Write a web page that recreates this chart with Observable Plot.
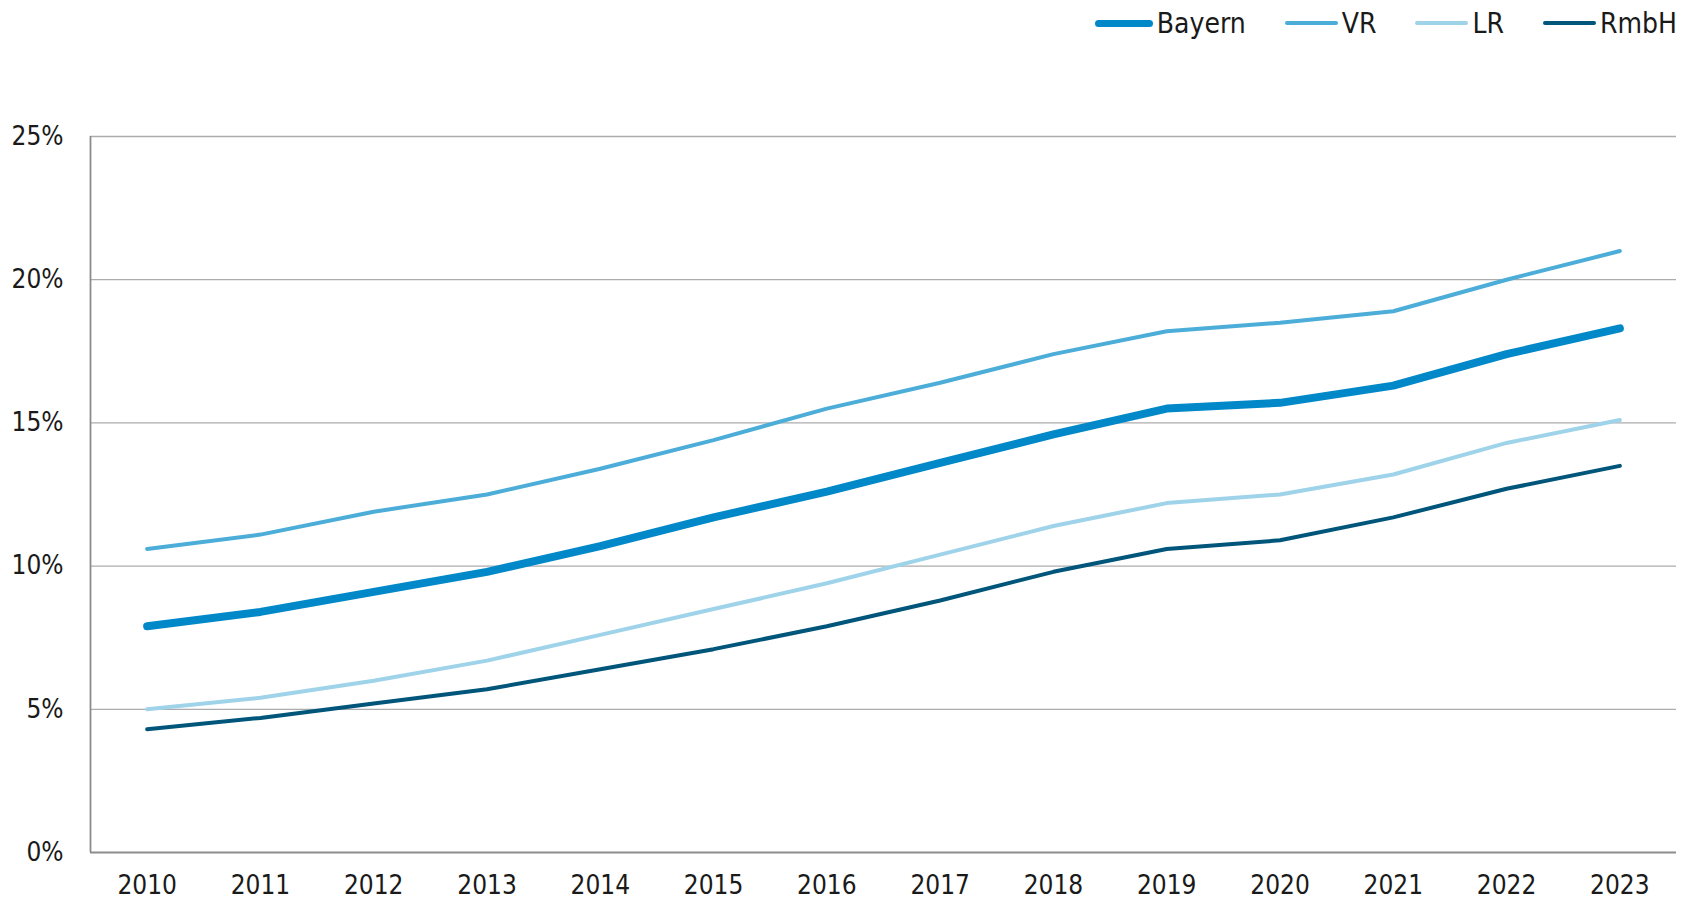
<!DOCTYPE html>
<html>
<head>
<meta charset="utf-8">
<script src="https://cdn.jsdelivr.net/npm/d3@7"></script>
<script src="https://cdn.jsdelivr.net/npm/@observablehq/plot@0.6"></script>
<style>
  html, body { margin: 0; padding: 0; background: #fff; }
  body { width: 1682px; height: 901px; overflow: hidden; font-family: "Liberation Sans Narrow", "DejaVu Sans Condensed", Roboto, sans-serif; color: #1a1a1a; }
  #legend { height: 46px; display: flex; justify-content: flex-end; align-items: center; padding-right: 5px; box-sizing: border-box; font-size: 28px; }
  .item { display: flex; align-items: center; margin-left: 39px; }
  .sw { border-radius: 4px; margin-right: 4px; }
</style>
</head>
<body>
<div id="legend"></div>
<div id="chart"></div>
<script>
const years = [2010, 2011, 2012, 2013, 2014, 2015, 2016, 2017, 2018, 2019, 2020, 2021, 2022, 2023];
const bayern = [7.9, 8.4, 9.1, 9.8, 10.7, 11.7, 12.6, 13.6, 14.6, 15.5, 15.7, 16.3, 17.4, 18.3];
const vr     = [10.6, 11.1, 11.9, 12.5, 13.4, 14.4, 15.5, 16.4, 17.4, 18.2, 18.5, 18.9, 20.0, 21.0];
const lr     = [5.0, 5.4, 6.0, 6.7, 7.6, 8.5, 9.4, 10.4, 11.4, 12.2, 12.5, 13.2, 14.3, 15.1];
const rmbh   = [4.3, 4.7, 5.2, 5.7, 6.4, 7.1, 7.9, 8.8, 9.8, 10.6, 10.9, 11.7, 12.7, 13.5];
const seriesNames = ["Bayern", "VR", "LR", "RmbH"];
const yTicks = [0, 5, 10, 15, 20, 25];

const colors = {Bayern: "#0088c8", VR: "#4badd8", LR: "#9fd3ea", RmbH: "#00557a"};
const widths = {Bayern: 8, VR: 4, LR: 4, RmbH: 4};
const values = {Bayern: bayern, VR: vr, LR: lr, RmbH: rmbh};

const rows = seriesNames.flatMap(s => years.map((y, i) => ({series: s, year: y, value: values[s][i]})));

// legend
const legend = document.getElementById("legend");
for (const s of seriesNames) {
  const it = document.createElement("div");
  it.className = "item";
  const sw = document.createElement("div");
  sw.className = "sw";
  sw.style.width = (s === "Bayern" ? 58 : 53) + "px";
  sw.style.height = widths[s] === 8 ? "7px" : "4px";
  sw.style.background = colors[s];
  const t = document.createElement("span");
  t.textContent = s;
  it.appendChild(sw);
  it.appendChild(t);
  legend.appendChild(it);
}

const drawOrder = ["VR", "LR", "RmbH", "Bayern"];

const chart = Plot.plot({
  width: 1682,
  height: 855,
  marginTop: 90,
  marginBottom: 49,
  marginLeft: 90,
  marginRight: 6,
  style: {fontFamily: "'Liberation Sans Narrow', 'DejaVu Sans Condensed', Roboto, sans-serif", fontSize: "26px", color: "#1a1a1a", background: "#fff"},
  x: {type: "linear", domain: [years[0] - 0.5, years[years.length - 1] + 0.5], ticks: years, tickFormat: d => String(d), tickSize: 0, tickPadding: 23, label: null},
  y: {domain: [0, 25], ticks: yTicks, tickFormat: d => d + "%", tickSize: 0, tickPadding: 27, label: null},
  marks: [
    Plot.gridY(yTicks.filter(d => d > 0), {stroke: "#acacac", strokeOpacity: 1, strokeWidth: 1.3}),
    Plot.ruleY([0], {stroke: "#8c8c8c", strokeWidth: 1.8}),
    Plot.ruleX([years[0] - 0.5], {stroke: "#8c8c8c", strokeWidth: 1.8}),
    ...drawOrder.map(s => Plot.lineY(rows.filter(r => r.series === s), {
      x: "year", y: "value", stroke: colors[s], strokeWidth: widths[s], strokeLinecap: "round", strokeLinejoin: "round"
    }))
  ]
});
document.getElementById("chart").appendChild(chart);
</script>
</body>
</html>
